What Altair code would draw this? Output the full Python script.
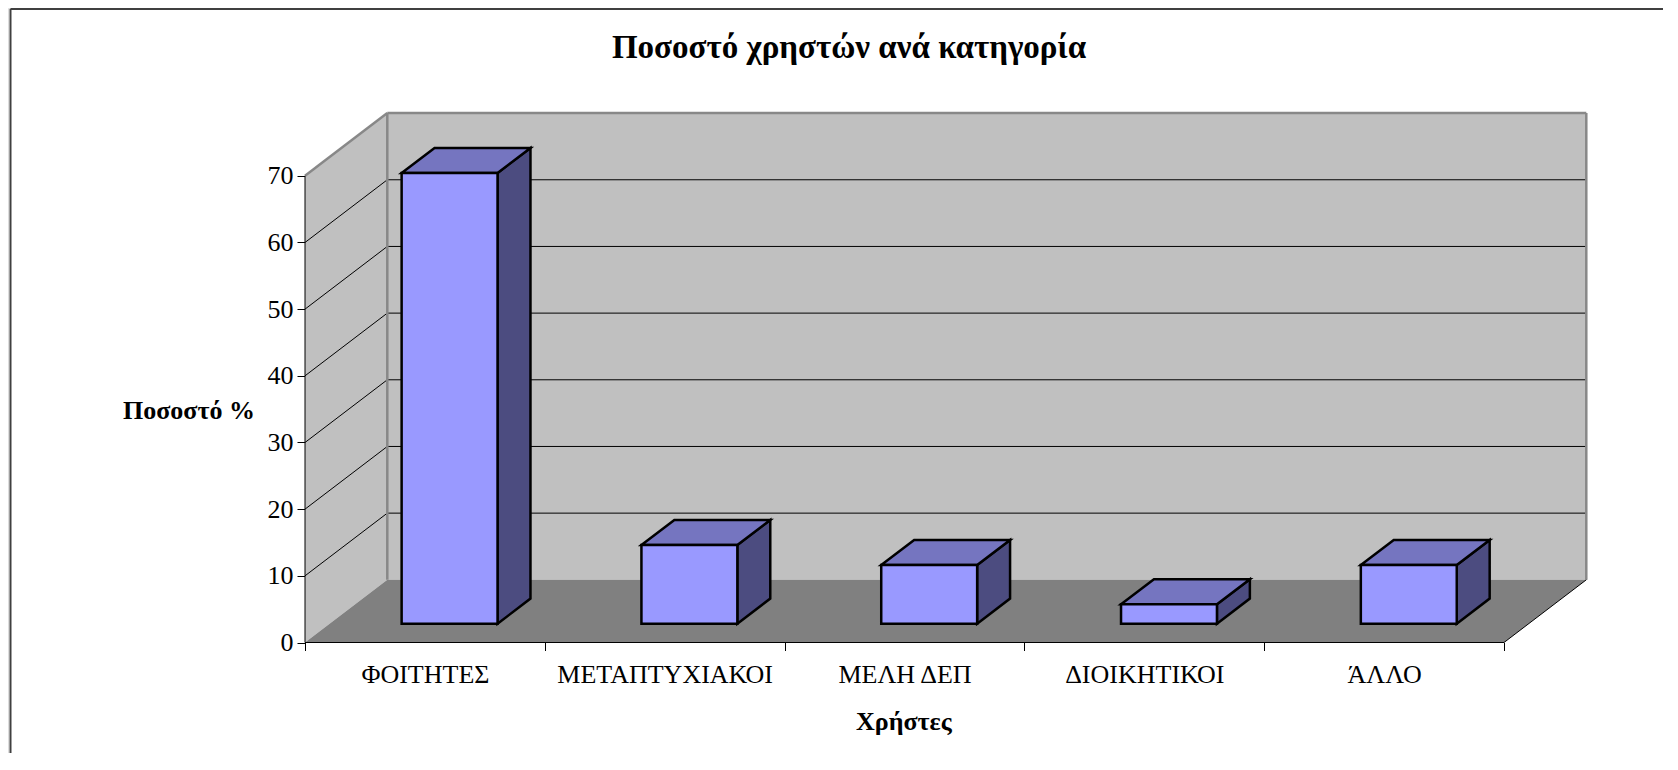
import json
import altair as alt
import pandas as pd

# ---------------- data ----------------
categories = ["ΦΟΙΤΗΤΕΣ", "ΜΕΤΑΠΤΥΧΙΑΚΟΙ", "ΜΕΛΗ ΔΕΠ", "ΔΙΟΙΚΗΤΙΚΟΙ", "ΆΛΛΟ"]
values = [67.6, 11.8, 8.8, 2.9, 8.8]
y_ticks = [0, 10, 20, 30, 40, 50, 60, 70]

chart_title = "Ποσοστό χρηστών ανά κατηγορία"
x_title = "Χρήστες"
y_title = "Ποσοστό %"

# ---------------- layout / style ----------------
W, H = 1655, 745
ORIGIN_X, ORIGIN_Y = 297.0, 634.5      # front-left corner of the 3D box (view px)
CAT_PX, UNIT_PX = 239.8, 6.667          # px per category, px per value unit
DX, DY = 82.3 / CAT_PX, 62.7 / UNIT_PX  # oblique depth vector in data units
F0, F1 = 0.3, 0.7                        # depth range occupied by bars
HALF = 0.2                               # half bar width (category units)
FONT = "Liberation Serif"

n = len(categories)
top = max(y_ticks)

xs = alt.Scale(domain=[-ORIGIN_X / CAT_PX, (W - ORIGIN_X) / CAT_PX], nice=False, zero=False)
ys = alt.Scale(domain=[-(H - ORIGIN_Y) / UNIT_PX, ORIGIN_Y / UNIT_PX], nice=False, zero=False)

label_expr = f"datum.value < {n} ? {json.dumps(categories, ensure_ascii=False)}[datum.value] : ''"
x_axis = alt.Axis(
    orient="bottom", offset=-(H - ORIGIN_Y), values=list(range(n + 1)),
    labelExpr=label_expr, labelOffset=CAT_PX / 2, labelOverlap=False, labelFlush=False,
    labelBound=False, labelLimit=0, domain=False, grid=False, ticks=True, tickSize=8,
    tickColor="black", tickWidth=1, labelFont=FONT, labelFontSize=26, labelColor="black",
    labelPadding=24, labelBaseline="middle", labelAlign="center",
    title=x_title, titleFont=FONT, titleFontSize=26, titleFontWeight="bold", titleColor="black",
    titleX=895.3, titleY=87, titleAlign="center", titleBaseline="alphabetic",
)
y_axis = alt.Axis(
    orient="left", offset=-ORIGIN_X, values=y_ticks, format="d", domain=False, grid=False,
    ticks=True, tickSize=8, tickColor="black", tickWidth=1, labelFont=FONT, labelFontSize=26,
    labelColor="black", labelPadding=4, labelBaseline="middle", labelFlush=False,
    labelOverlap=False, labelBound=False,
    title=y_title, titleFont=FONT, titleFontSize=26, titleFontWeight="bold", titleColor="black",
    titleAngle=0, titleX=-116.5, titleY=402, titleAlign="center", titleBaseline="middle",
)


def X(f="x"):
    return alt.X(f"{f}:Q", scale=xs, axis=x_axis)


def Y(f="y"):
    return alt.Y(f"{f}:Q", scale=ys, axis=y_axis)


# ---------------- 3D box (walls, floor, grid) ----------------
side_wall = pd.DataFrame({"x": [0, DX], "y": [0, DY], "y2": [top, top + DY]})
back_wall = pd.DataFrame({"x": [DX], "x2": [n + DX], "y": [DY], "y2": [top + DY]})
floor = pd.DataFrame({"y": [0, DY], "x": [0, DX], "x2": [n, n + DX]})

grid_rows = []
for v in y_ticks[1:-1]:
    grid_rows.append({"x": DX, "x2": n + DX, "y": v + DY, "y2": v + DY})
    grid_rows.append({"x": 0, "x2": DX, "y": v, "y2": v + DY})
grid = pd.DataFrame(grid_rows)

gray_edges = pd.DataFrame([
    {"x": DX, "x2": DX, "y": DY, "y2": top + DY},
    {"x": DX, "x2": n + DX, "y": top + DY, "y2": top + DY},
    {"x": 0, "x2": DX, "y": top, "y2": top + DY},
    {"x": n + DX, "x2": n + DX, "y": DY, "y2": top + DY},
])
black_edges = pd.DataFrame([
    {"x": n, "x2": n + DX, "y": 0, "y2": DY},
    {"x": 0, "x2": 0, "y": 0, "y2": top},
    {"x": 0, "x2": n, "y": 0, "y2": 0},
])

side_layer = alt.Chart(side_wall).mark_area(orient="vertical", color="#C0C0C0").encode(
    x=X(), y=Y(), y2="y2:Q")
back_layer = alt.Chart(back_wall).mark_rect(color="#C0C0C0").encode(
    x=X(), x2="x2:Q", y=Y(), y2="y2:Q")
floor_layer = alt.Chart(floor).mark_area(orient="horizontal", color="#808080").encode(
    y=Y(), x=X(), x2="x2:Q")
grid_layer = alt.Chart(grid).mark_rule(color="black", strokeWidth=1).encode(
    x=X(), x2="x2:Q", y=Y(), y2="y2:Q")
gray_layer = alt.Chart(gray_edges).mark_rule(color="#888888", strokeWidth=2.5).encode(
    x=X(), x2="x2:Q", y=Y(), y2="y2:Q")
black_layer = alt.Chart(black_edges).mark_rule(color="black", strokeWidth=1).encode(
    x=X(), x2="x2:Q", y=Y(), y2="y2:Q")

# ---------------- 3D bars ----------------
front_rows, top_rows, side_rows = [], [], []
for i, (name, v) in enumerate(zip(categories, values)):
    left, right = i + 0.5 - HALF, i + 0.5 + HALF
    front_rows.append({"name": name, "x": left + F0 * DX, "x2": right + F0 * DX,
                       "y": F0 * DY, "y2": v + F0 * DY})
    for f in (F0, F1):
        top_rows.append({"name": name, "y": v + f * DY, "x": left + f * DX, "x2": right + f * DX})
        side_rows.append({"name": name, "x": right + f * DX, "y": f * DY, "y2": v + f * DY})

bar_stroke = dict(stroke="black", strokeWidth=2.5, strokeJoin="miter")
side_faces = alt.Chart(pd.DataFrame(side_rows)).mark_area(
    orient="vertical", color="#4C4C80", **bar_stroke).encode(
    x=X(), y=Y(), y2="y2:Q", detail="name:N")
top_faces = alt.Chart(pd.DataFrame(top_rows)).mark_area(
    orient="horizontal", color="#7575C0", **bar_stroke).encode(
    y=Y(), x=X(), x2="x2:Q", detail="name:N")
front_faces = alt.Chart(pd.DataFrame(front_rows)).mark_rect(
    color="#9999FF", **bar_stroke).encode(
    x=X(), x2="x2:Q", y=Y(), y2="y2:Q")

# ---------------- outer frame (decoration) ----------------
one = pd.DataFrame({"k": [0]})
frame_left = alt.Chart(one).mark_rule(color="#404040", strokeWidth=2).encode(
    x=alt.value(2.5), y=alt.value(1), y2=alt.value(H))
frame_top = alt.Chart(one).mark_rule(color="#404040", strokeWidth=2).encode(
    x=alt.value(2.5), x2=alt.value(W), y=alt.value(1))

chart = alt.layer(
    side_layer, back_layer, floor_layer, grid_layer, gray_layer, black_layer,
    side_faces, top_faces, front_faces, frame_left, frame_top,
).properties(
    width=W, height=H,
    autosize=alt.AutoSizeParams(type="none"),
    padding={"left": 0, "top": 0, "right": 0, "bottom": 0},
    title=alt.TitleParams(chart_title, font=FONT, fontSize=33, fontWeight="bold",
                          color="black", anchor="middle", baseline="alphabetic",
                          offset=0, dx=13.5, dy=83),
).configure_view(stroke=None).configure(background="white")

chart.save("out.html", embed_options={"renderer": "svg", "actions": False})
